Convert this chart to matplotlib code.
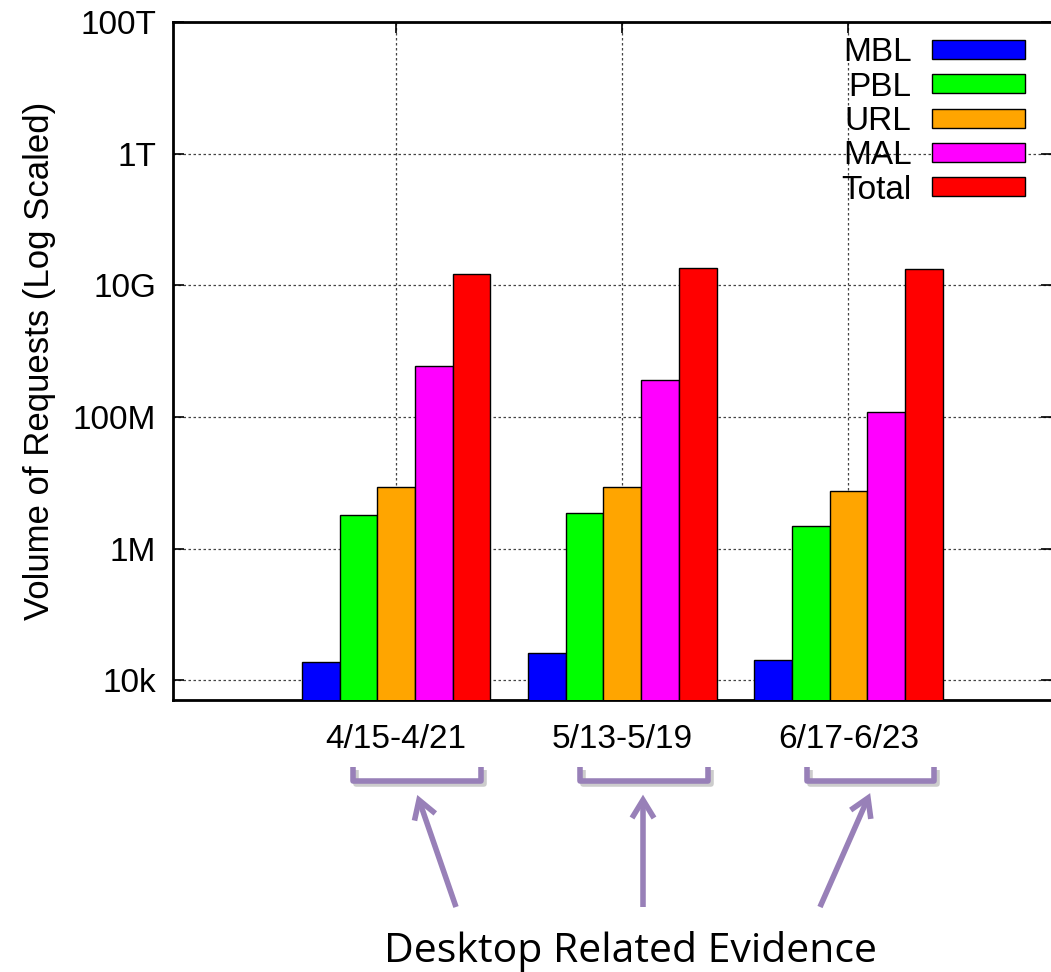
import matplotlib
matplotlib.use("Agg")
import matplotlib.pyplot as plt
import numpy as np
from matplotlib.lines import Line2D

weeks = ["4/15-4/21", "5/13-5/19", "6/17-6/23"]
series = ["MBL", "PBL", "URL", "MAL", "Total"]
colors = ["#0000ff", "#00ff00", "#ffa500", "#ff00ff", "#ff0000"]
mbl = [1.9e4, 2.6e4, 2.0e4]
pbl = [3.2e6, 3.5e6, 2.2e6]
url = [8.5e6, 8.7e6, 7.6e6]
mal = [5.9e8, 3.6e8, 1.2e8]
total = [1.5e10, 1.8e10, 1.75e10]
values = [mbl, pbl, url, mal, total]
ytick_vals = [1e4, 1e6, 1e8, 1e10, 1e12, 1e14]
ytick_labels = ["10k", "1M", "100M", "10G", "1T", "100T"]
annot_text = "Desktop Related Evidence"

W, H = 1051, 972
fig = plt.figure(figsize=(W / 100, H / 100), dpi=100)
plt.rcParams['font.family'] = ['Liberation Sans', 'DejaVu Sans']
ax = fig.add_axes([173 / W, 1 - 700 / H, (1052 - 173) / W, (700 - 22) / H])

x = np.arange(1, len(weeks) + 1)
bw = 1 / 6
for i, (name, vals, c) in enumerate(zip(series, values, colors)):
    ax.bar(x + (i - 2) * bw, np.array(vals) - 1, width=bw, bottom=1, color=c,
           edgecolor="black", linewidth=1.0, label=name, zorder=3)

ax.set_yscale("log")
ax.set_ylim(5000, 1e14)
ax.set_xlim(0.013, 3.9)
ax.set_yticks(ytick_vals)
ax.set_yticklabels(ytick_labels)
ax.minorticks_off()
ax.set_xticks(x)
ax.set_xticklabels(weeks)
ax.tick_params(axis="both", direction="in", length=8, width=1.2, labelsize=24,
               top=True, right=True)
ax.tick_params(axis="x", pad=17)
ax.tick_params(axis="y", pad=12)
ax.grid(True, linestyle=(0, (2, 2)), color="#444444", linewidth=0.9, zorder=0)
for s in ax.spines.values():
    s.set_linewidth(2)
ax.set_ylabel("Volume of Requests (Log Scaled)", fontsize=25, labelpad=12)

leg = ax.legend(loc="upper right", markerfirst=False, frameon=False, fontsize=24,
                handlelength=2.8, handleheight=0.5, labelspacing=0.1,
                handletextpad=0.62, borderaxespad=0.0, bbox_to_anchor=(0.985, 0.997))
for t in leg.get_texts():
    t.set_ha("right")
leg._legend_box.align = "right"
leg.set_zorder(5)

purple = "#9880b8"
shadow = "#cccccc"
brackets = [(353, 481), (580, 708), (807, 934)]
for (x0, x1) in brackets:
    for off, col, z in [(3, shadow, 1), (0, purple, 2)]:
        xs = [x0 + off, x0 + off, x1 + off, x1 + off]
        ys = [767 + off, 781 + off, 781 + off, 767 + off]
        fig.add_artist(Line2D([v / W for v in xs], [1 - v / H for v in ys],
                              color=col, linewidth=4, solid_joinstyle="round",
                              solid_capstyle="butt", zorder=z))

arrows = [((456, 907), (419, 800)), ((643, 907), (643, 800)), ((820, 907), (868, 798))]
for (t, h) in arrows:
    dx, dy = h[0] - t[0], h[1] - t[1]
    L = np.hypot(dx, dy)
    ux, uy = dx / L, dy / L
    px, py = -uy, ux
    e = (h[0] - ux * 2, h[1] - uy * 2)
    fig.add_artist(Line2D([t[0] / W, e[0] / W], [1 - t[1] / H, 1 - e[1] / H],
                          color=purple, linewidth=4, solid_capstyle="butt", zorder=2))
    hl, hw = 18, 11
    p1 = (h[0] - ux * hl + px * hw, h[1] - uy * hl + py * hw)
    p2 = (h[0] - ux * hl - px * hw, h[1] - uy * hl - py * hw)
    fig.add_artist(Line2D([p1[0] / W, h[0] / W, p2[0] / W],
                          [1 - p1[1] / H, 1 - h[1] / H, 1 - p2[1] / H],
                          color=purple, linewidth=4, solid_joinstyle="miter",
                          solid_capstyle="butt", zorder=2))

fig.text(631 / W, 1 - 962 / H, annot_text, ha="center", va="baseline",
         fontsize=29.5, family=["Open Sans", "DejaVu Sans"], color="black")

fig.savefig("out.png", dpi=100)
